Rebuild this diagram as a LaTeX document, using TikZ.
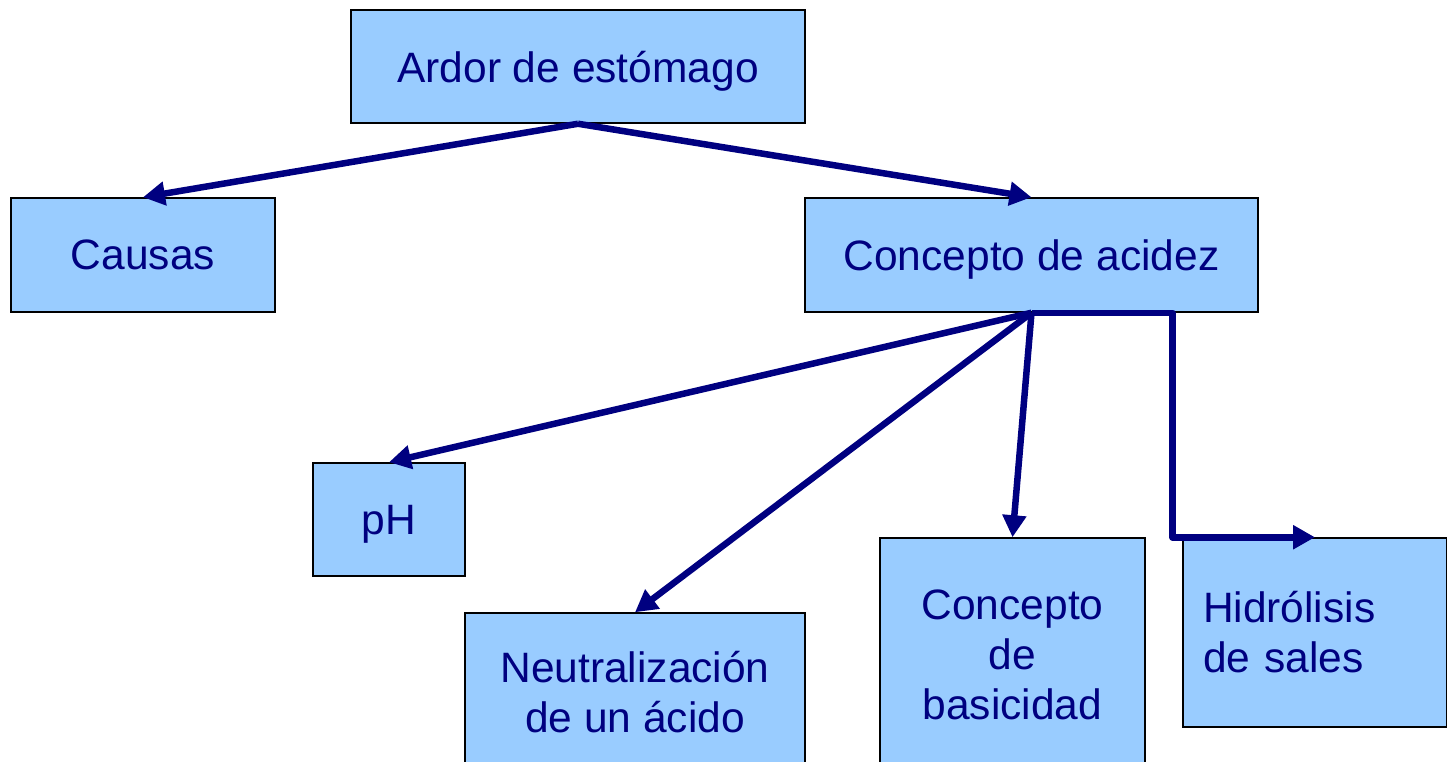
\documentclass[tikz,border=0pt]{standalone}
\usepackage{fontspec}
\setmainfont{Liberation Sans}
\usetikzlibrary{arrows.meta}
\definecolor{boxfill}{HTML}{99CCFF}
\definecolor{navyline}{HTML}{000080}
\begin{document}
\begin{tikzpicture}[x=1pt,y=-1pt,
  box/.style={draw=black, line width=1.5pt, fill=boxfill, text=navyline, inner sep=0pt,
    font=\fontsize{42.5}{50}\selectfont, align=center},
  oneline/.style={text depth=0pt},
  conn/.style={draw=navyline, line width=6.5pt, line join=round,
    -{Triangle[length=22pt,width=23pt]}}]
\useasboundingbox (0,0) rectangle (1447,762);
\node[box, oneline, minimum width=454pt, minimum height=113pt] (ardor) at (578,66.5) {Ardor de estómago};
\node[box, oneline, minimum width=264pt, minimum height=114pt] (causas) at (143,255) {Causas};
\node[box, oneline, minimum width=453pt, minimum height=114pt] (acidez) at (1031.5,255) {Concepto de acidez};
\node[box, oneline, minimum width=152pt, minimum height=113pt] (ph) at (389,519.5) {pH};
\node[box, minimum width=340pt, minimum height=158pt] (neutral) at (635,692) {Neutralización\\de un ácido};
\node[box, minimum width=265pt, minimum height=234pt] (basic) at (1012.5,655) {Concepto\\de\\basicidad};
\node[box, minimum width=264pt, minimum height=189pt, text width=224pt, align=left] (hidro) at (1315,632.5) {Hidrólisis\\de sales};
\draw[conn] (ardor.south) -- (causas.north);
\draw[conn] (ardor.south) -- (acidez.north);
\draw[conn] (acidez.south) -- (ph.north);
\draw[conn] (acidez.south) -- (neutral.north);
\draw[conn] (acidez.south) -- (basic.north);
\draw[conn] (acidez.south) -- ++(141,0) |- (hidro.north);
\end{tikzpicture}
\end{document}
